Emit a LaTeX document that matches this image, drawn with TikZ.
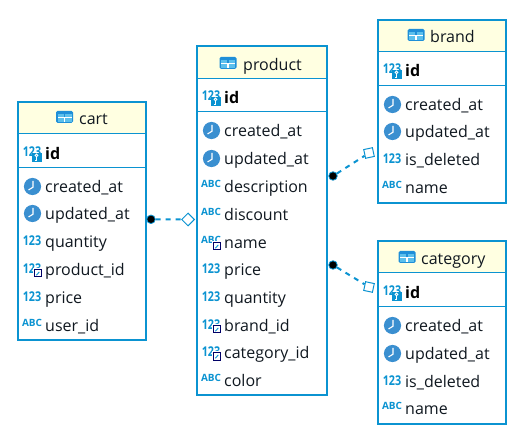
\documentclass[tikz,border=0pt]{standalone}
\usepackage{fontspec}
\usetikzlibrary{shapes.geometric}
\setmainfont{Open Sans}
\definecolor{edge}{HTML}{0B93D1}
\definecolor{head}{HTML}{FFFFE1}
\definecolor{clockblue}{HTML}{3A8FD0}
\definecolor{tabblue}{HTML}{1F8FD8}
\definecolor{tablight}{HTML}{5CC0EC}
\definecolor{ink}{HTML}{101820}
\newcommand{\rowfont}{\fontsize{16}{18}\selectfont}
\newcommand{\numfont}{\fontsize{13.5}{15}\selectfont\bfseries}
\newcommand{\abcfont}{\fontsize{10}{12}\selectfont\bfseries}
\tikzset{
  tablebox/.style={draw=edge,line width=2pt,rectangle,inner sep=0pt,outer sep=0pt,anchor=north west},
  sepline/.style={draw=edge,line width=1pt},
  rowtext/.style={anchor=base west,inner sep=0pt,text=ink,font=\rowfont},
  keytext/.style={anchor=base west,inner sep=0pt,text=black,font=\rowfont\bfseries},
  titletext/.style={anchor=base west,inner sep=0pt,text=ink,font=\rowfont},
  srcdot/.style={circle,fill=black,draw=edge,line width=.8pt,inner sep=0pt,minimum size=8.5pt},
  trgdiamond/.style={diamond,draw=edge,fill=white,line width=1pt,inner sep=0pt,minimum size=13pt},
  link/.style={draw=edge,line width=2pt,dash pattern=on 5pt off 5pt},
  pics/tableicon/.style={code={
    \fill[tabblue,rounded corners=1.5pt] (-8.5,-6) rectangle (8.5,6);
    \fill[tablight] (-7,-3) rectangle (-.6,-.2);
    \fill[tablight] (.6,-3) rectangle (7,-.2);
    \fill[white] (-7,-.2) rectangle (7,.8);
    \fill[tablight] (-7,.8) rectangle (-.6,4.6);
    \fill[tablight] (.6,.8) rectangle (7,4.6);
    \fill[white] (-.6,.8) rectangle (.6,4.6);
  }},
  pics/clockicon/.style={code={
    \fill[clockblue] (.5,.5) circle (8.6);
    \draw[white,line width=1.1pt] (1,-5) -- (1,1.2) -- (-3.5,4);
  }},
  pics/numicon/.style={code={
    \node[inner sep=0pt,text=edge,font=\numfont,xscale=.8,transform shape] at (0,0) {123};
  }},
  pics/abcicon/.style={code={
    \node[inner sep=0pt,text=edge,font=\abcfont] at (0,-2) {ABC};
  }},
  pics/fkbadge/.style={code={
    \fill[white] (1,-.5) rectangle (10,8.5);
    \draw[draw=black!60!blue,line width=1pt] (2.5,.5) rectangle (9,8);
    \draw[edge,line width=.9pt] (4.3,6.2) -- (7.3,3);
  }},
  pics/keybadge/.style={code={
    \fill[edge] (-.5,0) rectangle (9.5,9);
    \draw[white,line width=.9pt] (4.5,2.3) circle (1.4);
    \draw[white,line width=.9pt] (4.5,3.7) -- (4.5,7.4) -- (3.2,7.4);
  }},
}
% \tablebox{name}{x0}{y0}{x1}{y1}{first rule}{second rule}
\newcommand{\tablebox}[7]{%
  \node[tablebox,minimum width=#4pt-#2pt,minimum height=#5pt-#3pt,fill=white] (#1) at (#2,#3) {};
  \fill[head] (#2,#3) rectangle (#4,#6);
  \draw[draw=edge,line width=2pt] (#1.north west) rectangle (#1.south east);
  \draw[sepline] (#1.west |- 0,#6) -- (#1.east |- 0,#6);
  \draw[sepline] (#1.west |- 0,#7) -- (#1.east |- 0,#7);
}
\newcommand{\clockrow}[4]{\pic at (#1,#3) {clockicon}; \node[rowtext] (#4) at (#2,#3+6.3) {\detokenize{#4}};}
\newcommand{\numrow}[4]{\pic at (#1,#3) {numicon}; \node[rowtext] (#4) at (#2,#3+6.3) {\detokenize{#4}};}
\newcommand{\abcrow}[4]{\pic at (#1,#3) {abcicon}; \node[rowtext] (#4) at (#2,#3+6.3) {\detokenize{#4}};}
\newcommand{\fknumrow}[4]{\pic at (#1,#3) {numicon}; \pic at (#1,#3) {fkbadge}; \node[rowtext] (#4) at (#2,#3+6.3) {\detokenize{#4}};}
\newcommand{\fkabcrow}[4]{\pic at (#1,#3) {abcicon}; \pic at (#1,#3) {fkbadge}; \node[rowtext] (#4) at (#2,#3+6.3) {\detokenize{#4}};}
\newcommand{\keyrow}[3]{\pic at (#1,#3-1) {numicon}; \pic at (#1,#3) {keybadge}; \node[keytext] at (#2,#3+7) {id};}
\begin{document}
\begin{tikzpicture}[x=1pt,y=-1pt]
\useasboundingbox (0,0) rectangle (531,441);
% cart
\tablebox{cart}{18}{102}{146}{340}{134}{168}
\pic at (64.5,117) {tableicon};
\node[titletext] (carttitle) at (79,125) {cart};
\keyrow{32}{45}{153}
\clockrow{32}{45}{186}{created_at}
\clockrow{32}{45}{213}{updated_at}
\numrow{32}{45}{241}{quantity}
\fknumrow{32}{45}{269}{product_id}
\numrow{32}{45}{297}{price}
\abcrow{32}{45}{325}{user_id}
% product
\tablebox{product}{197}{46}{327}{395}{79}{112}
\pic at (228,63) {tableicon};
\node[titletext] (producttitle) at (243,71) {product};
\keyrow{211}{224}{97}
\clockrow{211}{224}{130}{created_at}
\clockrow{211}{224}{158}{updated_at}
\abcrow{211}{224}{186}{description}
\abcrow{211}{224}{214}{discount}
\fkabcrow{211}{224}{242}{name}
\numrow{211}{224}{269}{price}
\numrow{211}{224}{297}{quantity}
\fknumrow{211}{224}{325}{brand_id}
\fknumrow{211}{224}{352}{category_id}
\abcrow{211}{224}{380}{color}
% brand
\tablebox{brand}{378}{20}{506}{203}{52}{86}
\pic at (416,35) {tableicon};
\node[titletext] (brandtitle) at (430,43) {brand};
\keyrow{392}{405}{70}
\clockrow{392}{405}{104}{created_at}
\clockrow{392}{405}{131}{updated_at}
\numrow{392}{405}{159}{is_deleted}
\abcrow{392}{405}{187}{name}
% category
\tablebox{category}{378}{241}{506}{424}{273}{307}
\pic at (407,257) {tableicon};
\node[titletext] (categorytitle) at (421,265) {category};
\keyrow{392}{405}{292}
\clockrow{392}{405}{325}{created_at}
\clockrow{392}{405}{353}{updated_at}
\numrow{392}{405}{381}{is_deleted}
\abcrow{392}{405}{408}{name}
% connectors
\node[srcdot] (cartdot) at (151,219.3) {};
\node[trgdiamond] (cartend) at (188,219.5) {};
\node[srcdot] (branddot) at (333,176) {};
\node[trgdiamond,rotate=-33] (brandend) at (369,153) {};
\node[srcdot] (catdot) at (333,265) {};
\node[trgdiamond,rotate=33] (catend) at (369,287) {};
\draw[link] (cartdot) -- (cartend);
\draw[link] (branddot) -- (brandend);
\draw[link] (catdot) -- (catend);
\end{tikzpicture}
\end{document}
